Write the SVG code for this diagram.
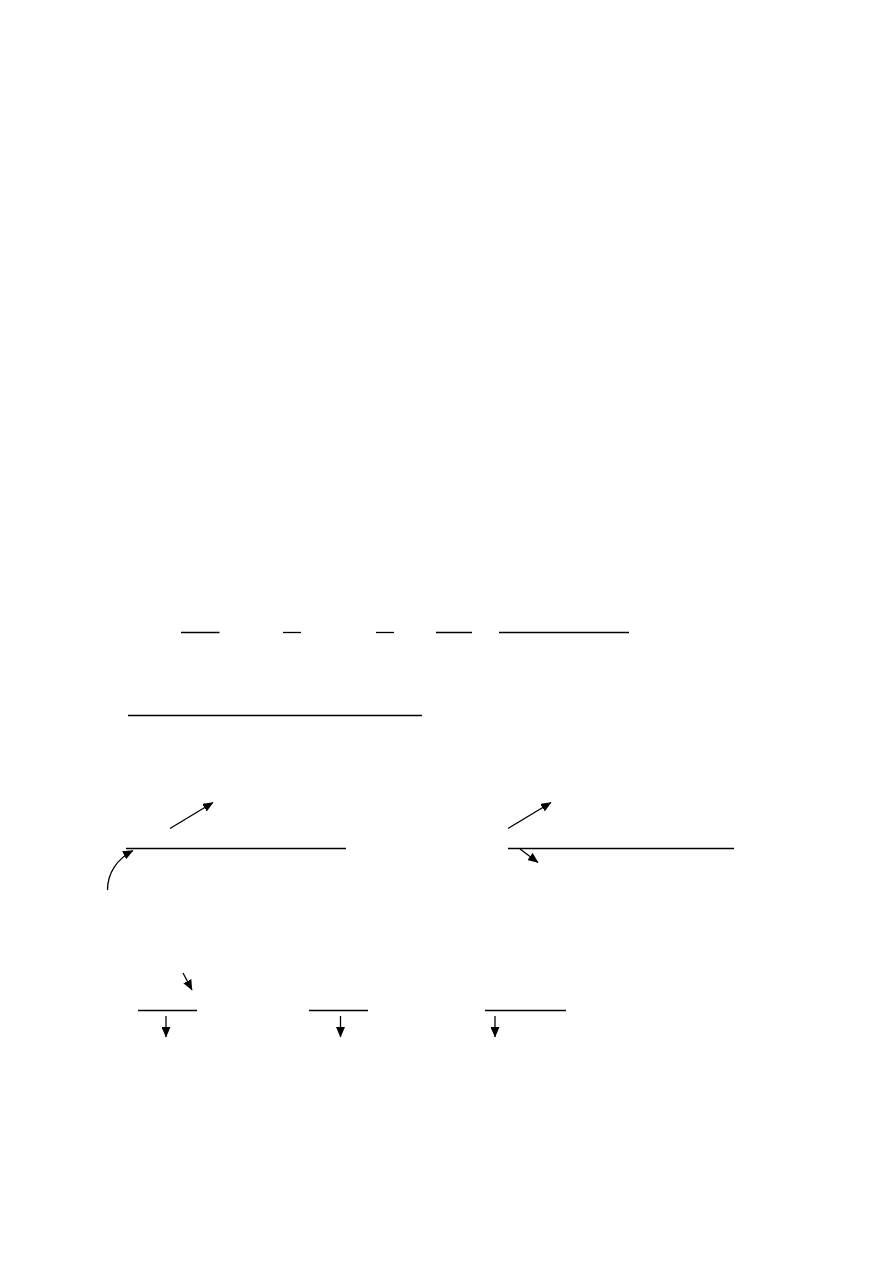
<svg xmlns="http://www.w3.org/2000/svg" width="893" height="1263" viewBox="0 0 893 1263">
<style>
.ln{stroke:#000;stroke-width:1.3;fill:none}
.ar{stroke:#000;stroke-width:1.3;fill:none;marker-end:url(#ah)}
</style>
<defs>
<marker id="ah" markerUnits="userSpaceOnUse" markerWidth="11" markerHeight="9" refX="10" refY="4.5" orient="auto">
<path d="M0,0 L10.5,4.5 L0,9 z" fill="#000"/>
</marker>
</defs>
<rect width="893" height="1263" fill="#fff"/>
<g id="rules">
<line class="ln" x1="181" y1="632.5" x2="219.5" y2="632.5"/>
<line class="ln" x1="283" y1="632.5" x2="301" y2="632.5"/>
<line class="ln" x1="376" y1="632.5" x2="394" y2="632.5"/>
<line class="ln" x1="436" y1="632.5" x2="472" y2="632.5"/>
<line class="ln" x1="499" y1="632.5" x2="629" y2="632.5"/>
<line class="ln" x1="128" y1="715.5" x2="422" y2="715.5"/>
<line class="ln" x1="126" y1="848.5" x2="346" y2="848.5"/>
<line class="ln" x1="508" y1="848.5" x2="734" y2="848.5"/>
<line class="ln" x1="138" y1="1010.5" x2="197" y2="1010.5"/>
<line class="ln" x1="309" y1="1010.5" x2="368" y2="1010.5"/>
<line class="ln" x1="485" y1="1010.5" x2="566" y2="1010.5"/>
</g>
<g id="connectors">
<line class="ar" x1="170" y1="828.5" x2="213" y2="802.5"/>
<path class="ar" d="M107.5,890 C107.5,873 117,859 133,850.5"/>
<line class="ar" x1="508" y1="828.5" x2="551" y2="802.5"/>
<line class="ar" x1="520" y1="849" x2="538" y2="862.5"/>
<line class="ar" x1="183" y1="973" x2="192" y2="990"/>
<line class="ar" x1="166" y1="1016" x2="166" y2="1037"/>
<line class="ar" x1="340.5" y1="1016" x2="340.5" y2="1037"/>
<line class="ar" x1="495" y1="1016" x2="495" y2="1037"/>
</g>
</svg>
